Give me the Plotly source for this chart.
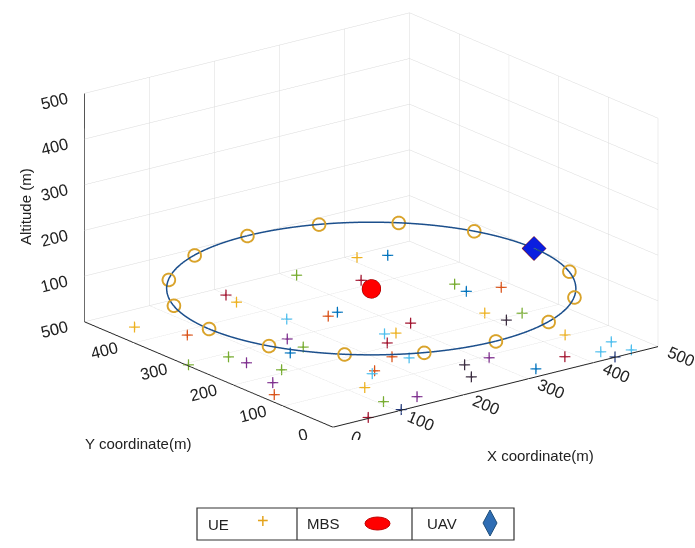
import numpy as np
import plotly.graph_objects as go

# ---------------- data ----------------
# UE ground positions (m) (all at altitude 0)
ue_x = [199, 193, 37, 70, 60, 64, 3, 412, 447, 313, 364, 203, 250, 268, 314, 264, 277,
        246, 158, 155, 129, 219, 233, 170, 161, 122, 108, 152, 107, 57, 271, 250, 311,
        82, 44, 18, 446, 441, 484, 409, 414, 445, 437, 387, 331, 466, 433, 435, 467]
ue_y = [476, 447, 448, 385, 289, 258, 295, 491, 475, 483, 420, 359, 337, 342, 255, 242, 236,
        213, 299, 263, 255, 168, 152, 139, 132, 96, 40, 30, 3, 4, 90, 49, 93,
        211, 179, 142, 339, 309, 295, 230, 193, 202, 105, 40, 25, 50, 28, 2, 11]
ue_group = ["darkred", "yellow", "yellow", "orange", "green", "purple", "green", "yellow",
            "blue", "green", "darkred", "lightblue", "orange", "blue", "darkred", "lightblue",
            "yellow", "darkred", "purple", "green", "blue", "orange", "lightblue", "orange",
            "lightblue", "yellow", "green", "purple", "navy", "darkred", "dark", "dark",
            "purple", "green", "purple", "orange", "green", "blue", "orange", "yellow",
            "dark", "green", "yellow", "darkred", "blue", "lightblue", "lightblue", "navy",
            "lightblue"]

# MBS position and UAV trajectory
mbs_pos = [250, 250, 100]
traj_center = [250, 250]
traj_radius = 250
traj_altitude = 100
waypoint_angles_deg = [0, 22.5, 45, 67.5, 90, 112.5, 135, 157.5, 180,
                       202.5, 225, 247.5, 270, 292.5, 315, 337.5]
uav_angle_deg = 0

axis_ticks = [0, 100, 200, 300, 400, 500]
x_title = "X coordinate(m)"
y_title = "Y coordinate(m)"
z_title = "Altitude (m)"

# ---------------- styles ----------------
palette = {
    "blue": "#0072BD", "orange": "#D95319", "yellow": "#EDB120", "purple": "#7E2F8E",
    "green": "#77AC30", "lightblue": "#4DBEEE", "darkred": "#A2142F",
    "dark": "#3b2d40", "navy": "#23397a",
}

fig = go.Figure()

t = np.linspace(0, 2 * np.pi, 361)
fig.add_trace(go.Scatter3d(
    x=traj_center[0] + traj_radius * np.cos(t),
    y=traj_center[1] + traj_radius * np.sin(t),
    z=np.full_like(t, traj_altitude),
    mode="lines", line=dict(color="#1c4f8c", width=3),
    showlegend=False, hoverinfo="skip"))

wa = np.radians(waypoint_angles_deg)
fig.add_trace(go.Scatter3d(
    x=traj_center[0] + traj_radius * np.cos(wa),
    y=traj_center[1] + traj_radius * np.sin(wa),
    z=[traj_altitude] * len(wa),
    mode="markers",
    marker=dict(symbol="circle-open", size=8, color="#D9A32A", line=dict(width=1.5, color="#D9A32A")),
    showlegend=False, name="waypoints"))

fig.add_trace(go.Scatter3d(
    x=ue_x, y=ue_y, z=[0] * len(ue_x), mode="markers",
    marker=dict(symbol="cross", size=6, color=[palette[g] for g in ue_group]),
    showlegend=False, name="UE"))

fig.add_trace(go.Scatter3d(
    x=[mbs_pos[0]], y=[mbs_pos[1]], z=[mbs_pos[2]], mode="markers",
    marker=dict(symbol="circle", size=11, color="#FF0000", line=dict(color="#8B0000", width=1)),
    showlegend=False, name="MBS"))

ua = np.radians(uav_angle_deg)
fig.add_trace(go.Scatter3d(
    x=[traj_center[0] + traj_radius * np.cos(ua)],
    y=[traj_center[1] + traj_radius * np.sin(ua)],
    z=[traj_altitude], mode="markers",
    marker=dict(symbol="diamond", size=8, color="#0A1EE0", line=dict(color="#8B1A1A", width=1)),
    showlegend=False, name="UAV"))

axis_common = dict(
    range=[0, 500], tickvals=axis_ticks, autorange=False,
    showgrid=True, gridcolor="#dadada", gridwidth=1,
    showline=True, linecolor="#222222", linewidth=2,
    zeroline=False, showbackground=False, showspikes=False,
    ticks="outside", tickcolor="rgba(0,0,0,0)", ticklen=20,
    tickfont=dict(family="Arial", size=14, color="#222222"),
    title=dict(text=""),
)

zoom = 1.86
# horizontal screen shift so that the box sits where it does in the original
shift = 0.108
center = dict(x=-shift * 0.794, y=shift * 0.607, z=0)
view_dir = (-0.574, -0.751, 0.324)
eye = dict(x=center["x"] + 1.9 * view_dir[0],
           y=center["y"] + 1.9 * view_dir[1],
           z=center["z"] + 1.9 * view_dir[2])

fig.update_layout(
    width=695, height=548,
    margin=dict(l=0, r=0, t=0, b=0),
    paper_bgcolor="white",
    font=dict(family="Arial", color="#222222"),
    scene=dict(
        domain=dict(x=[0.0, 1.0], y=[0.197, 1.0]),
        xaxis=dict(axis_common),
        yaxis=dict(axis_common),
        zaxis=dict(axis_common),
        aspectmode="manual", aspectratio=dict(x=zoom, y=zoom, z=0.59 * zoom),
        camera=dict(eye=eye, up=dict(x=0, y=0, z=1), center=center,
                    projection=dict(type="orthographic")),
        bgcolor="white",
    ),
)

# ------------- axis titles and custom legend box -------------
W, H = 695, 548
def px(x): return x / W
def py(y): return 1 - y / H

box = dict(x0=197, x1=514, y0=508, y1=540)
dividers = [297, 412]
shapes = [dict(type="rect", xref="paper", yref="paper",
               x0=px(box["x0"]), x1=px(box["x1"]), y0=py(box["y1"]), y1=py(box["y0"]),
               line=dict(color="#333333", width=1.2), fillcolor="white")]
for d in dividers:
    shapes.append(dict(type="line", xref="paper", yref="paper",
                       x0=px(d), x1=px(d), y0=py(box["y1"]), y1=py(box["y0"]),
                       line=dict(color="#333333", width=1.2)))
# MBS ellipse
shapes.append(dict(type="circle", xref="paper", yref="paper",
                   x0=px(365), x1=px(390), y0=py(530), y1=py(517),
                   fillcolor="#FF0000", line=dict(color="#C00000", width=1)))
# UAV diamond
cxd, cyd = 490, 523
shapes.append(dict(type="path", xref="paper", yref="paper",
                   path=f"M {px(cxd)} {py(cyd-13)} L {px(cxd+7)} {py(cyd)} L {px(cxd)} {py(cyd+13)} L {px(cxd-7)} {py(cyd)} Z",
                   fillcolor="#2E6DB4", line=dict(color="#1F4E79", width=1)))

title_font = dict(size=15, family="Arial", color="#222222")
annotations = [
    dict(x=px(25), y=py(207), xref="paper", yref="paper", text=z_title, showarrow=False,
         textangle=-90, xanchor="center", yanchor="middle", font=title_font),
    dict(x=px(540), y=py(455), xref="paper", yref="paper", text=x_title, showarrow=False,
         xanchor="center", yanchor="middle", font=title_font),
    dict(x=px(138), y=py(443), xref="paper", yref="paper", text=y_title, showarrow=False,
         xanchor="center", yanchor="middle", font=title_font),
    dict(x=px(206), y=py(524), xref="paper", yref="paper", text="UE", showarrow=False,
         xanchor="left", yanchor="middle", font=title_font),
    dict(x=px(263), y=py(521), xref="paper", yref="paper", text="+", showarrow=False,
         xanchor="center", yanchor="middle", font=dict(size=20, family="Arial", color="#E3A21A")),
    dict(x=px(305), y=py(523), xref="paper", yref="paper", text="MBS", showarrow=False,
         xanchor="left", yanchor="middle", font=title_font),
    dict(x=px(425), y=py(523), xref="paper", yref="paper", text="UAV", showarrow=False,
         xanchor="left", yanchor="middle", font=title_font),
]
fig.update_layout(shapes=shapes, annotations=annotations)

fig.write_html("out.html")
